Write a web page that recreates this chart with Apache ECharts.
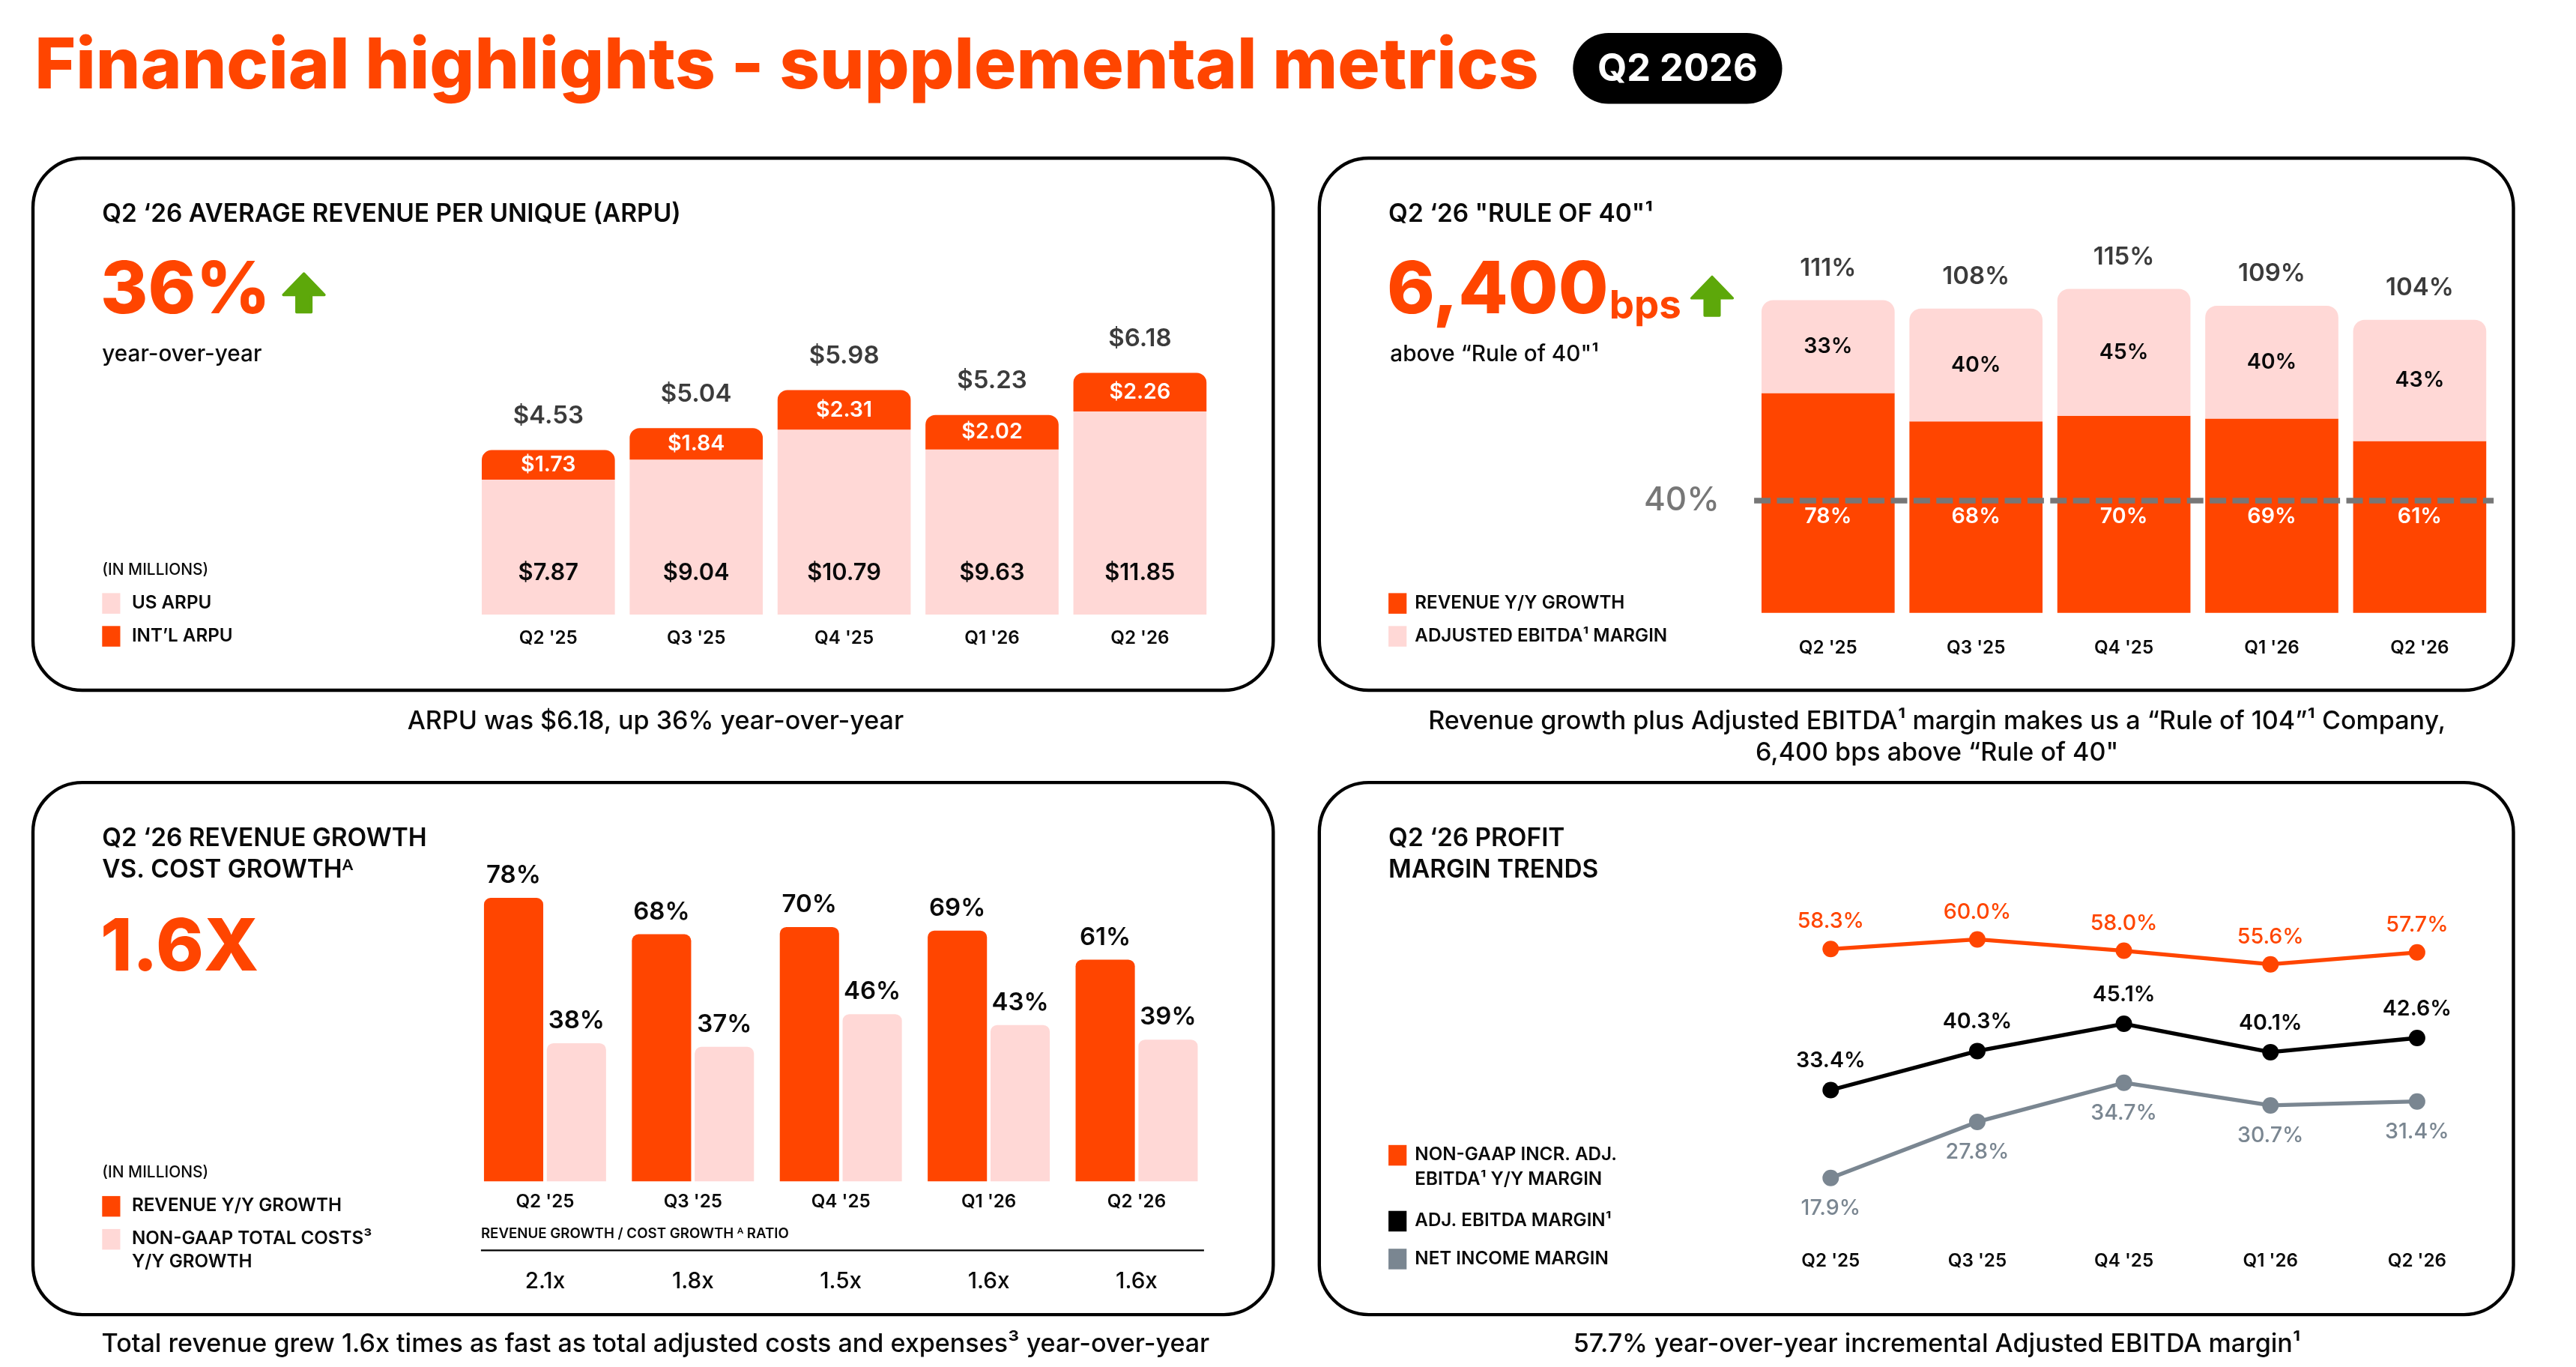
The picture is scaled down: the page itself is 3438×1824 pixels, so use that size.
<!DOCTYPE html>
<html><head><meta charset="utf-8">
<script src="https://cdn.jsdelivr.net/npm/echarts@6/dist/echarts.min.js"></script>
<style>html,body{margin:0;padding:0;background:#fff}#c{width:3438px;height:1824px}</style>
</head><body><div id="c"></div>
<script>
// ---------- DATA ----------
const quarters = ["Q2 '25", "Q3 '25", "Q4 '25", "Q1 '26", "Q2 '26"];
const usArpu = [7.87, 9.04, 10.79, 9.63, 11.85];
const intlArpu = [1.73, 1.84, 2.31, 2.02, 2.26];
const totalArpu = [4.53, 5.04, 5.98, 5.23, 6.18];
const revenueGrowth = [78, 68, 70, 69, 61];
const ebitdaMargin = [33, 40, 45, 40, 43];
const ruleOf40 = [111, 108, 115, 109, 104];
const ruleThreshold = 40;
const costGrowth = [38, 37, 46, 43, 39];
const growthRatio = ['2.1x', '1.8x', '1.5x', '1.6x', '1.6x'];
const incrEbitdaMargin = [58.3, 60.0, 58.0, 55.6, 57.7];
const adjEbitdaMargin = [33.4, 40.3, 45.1, 40.1, 42.6];
const netIncomeMargin = [17.9, 27.8, 34.7, 30.7, 31.4];

// ---------- LAYOUT ----------
const S = 3438 / 1564;
const P = v => Math.round(v * S * 10) / 10;
const ORANGE = '#FF4500', PINK = '#FFD8D6', GRAY = '#7A8691', DASH = '#777777', INK = '#0A0A0A';
const FONT = 'Inter, "Noto Sans", sans-serif';

function txt(x, y, text, size, o = {}) {
  return { type: 'text', z: 10, style: {
    x: P(x), y: P(y), text: text, fontFamily: FONT, fontSize: P(size),
    fontWeight: o.weight || 600, fill: o.fill || INK,
    align: o.align || 'left', verticalAlign: 'middle' } };
}
function panel(x, y, w, h) {
  return { type: 'rect', z: -10, shape: { x: P(x), y: P(y), width: P(w), height: P(h), r: P(30) },
    style: { fill: '#fff', stroke: '#000', lineWidth: P(2) } };
}
function square(x, y, color) {
  return { type: 'rect', z: 10, shape: { x: P(x), y: P(y - 6), width: P(11), height: P(12.5) }, style: { fill: color } };
}
function arrow(x, y) {
  const pts = [[0, 13], [12.5, 0], [25, 13], [17, 13], [17, 23.5], [8, 23.5], [8, 13]];
  return { type: 'polygon', z: 10, shape: { points: pts.map(p => [P(x + p[0]), P(y + p[1])]) },
    style: { fill: '#5DA80A', lineJoin: 'round', stroke: '#5DA80A', lineWidth: P(1.5) } };
}

const graphics = [
  panel(20, 96, 753, 323), panel(801, 96, 725, 323),
  panel(20, 475, 753, 323), panel(801, 475, 725, 323),
  txt(21, 41, 'Financial highlights - supplemental metrics', 42.7, { weight: 800, fill: ORANGE }),
  { type: 'rect', z: 10, shape: { x: P(955), y: P(20), width: P(127), height: P(43), r: P(21.5) }, style: { fill: '#000' } },
  txt(1018.5, 42, 'Q2 2026', 23, { weight: 700, fill: '#fff', align: 'center' }),

  // Panel 1
  txt(62, 130, 'Q2 \u201826 AVERAGE REVENUE PER UNIQUE (ARPU)', 15.2),
  txt(61, 177, '36%', 44, { weight: 800, fill: ORANGE }),
  arrow(172, 166),
  txt(62, 215, 'year-over-year', 13.5, { weight: 500 }),
  txt(62, 346, '(IN MILLIONS)', 9.5, { weight: 500 }),
  square(62, 366, PINK), txt(80, 366, 'US ARPU', 11),
  square(62, 386, ORANGE), txt(80, 386, 'INT\u2019L ARPU', 11),
  txt(398, 438, 'ARPU was $6.18, up 36% year-over-year', 15.5, { weight: 500, align: 'center' }),

  // Panel 2
  txt(843, 130, 'Q2 \u201826 "RULE OF 40"\u00B9', 15.2),
  txt(842, 177, '6,400', 44, { weight: 800, fill: ORANGE }),
  txt(977, 186, 'bps', 24, { weight: 700, fill: ORANGE }),
  arrow(1027, 168),
  txt(844, 215, 'above \u201CRule of 40"\u00B9', 13.5, { weight: 500 }),
  square(843, 366, ORANGE), txt(859, 366, 'REVENUE Y/Y GROWTH', 11),
  square(843, 386, PINK), txt(859, 386, 'ADJUSTED EBITDA\u00B9 MARGIN', 11),
  txt(1176, 438, 'Revenue growth plus Adjusted EBITDA\u00B9 margin makes us a \u201CRule of 104\u201D\u00B9 Company,', 15.5, { weight: 500, align: 'center' }),
  txt(1176, 457, '6,400 bps above \u201CRule of 40"', 15.5, { weight: 500, align: 'center' }),

  // Panel 3
  txt(62, 509, 'Q2 \u201826 REVENUE GROWTH', 15.2),
  txt(62, 528, 'VS. COST GROWTH\u1D2C', 15.2),
  txt(61, 576, '1.6X', 44, { weight: 800, fill: ORANGE }),
  txt(62, 712, '(IN MILLIONS)', 9.5, { weight: 500 }),
  square(62, 732, ORANGE), txt(80, 732, 'REVENUE Y/Y GROWTH', 11),
  square(62, 752, PINK), txt(80, 752, 'NON-GAAP TOTAL COSTS\u00B3', 11), txt(80, 766, 'Y/Y GROWTH', 11),
  txt(292, 749, 'REVENUE GROWTH / COST GROWTH \u1D2C RATIO', 8.5),
  { type: 'line', z: 10, shape: { x1: P(292), y1: P(759), x2: P(731), y2: P(759) }, style: { stroke: '#000', lineWidth: P(1) } },
  txt(398, 816, 'Total revenue grew 1.6x times as fast as total adjusted costs and expenses\u00B3 year-over-year', 15.5, { weight: 500, align: 'center' }),

  // Panel 4
  txt(843, 509, 'Q2 \u201826 PROFIT', 15.2),
  txt(843, 528, 'MARGIN TRENDS', 15.2),
  square(843, 701, ORANGE), txt(859, 701, 'NON-GAAP INCR. ADJ.', 11), txt(859, 716, 'EBITDA\u00B9 Y/Y MARGIN', 11),
  square(843, 741, '#000'), txt(859, 741, 'ADJ. EBITDA MARGIN\u00B9', 11),
  square(843, 764, GRAY), txt(859, 764, 'NET INCOME MARGIN', 11),
  txt(1176, 816, '57.7% year-over-year incremental Adjusted EBITDA margin\u00B9', 15.5, { weight: 500, align: 'center' })
];

// ---------- AXES ----------
function catAxis(grid, data, margin, size, extra = {}) {
  return Object.assign({ type: 'category', gridIndex: grid, data: data,
    axisLine: { show: false }, axisTick: { show: false }, splitLine: { show: false },
    axisLabel: { margin: P(margin), fontFamily: FONT, fontSize: P(size), fontWeight: 600, color: INK } }, extra);
}
function valAxis(grid, min, max) {
  return { type: 'value', gridIndex: grid, min: min, max: max, show: false, splitLine: { show: false } };
}
const lbl = (size, o = {}) => Object.assign({ show: true, fontFamily: FONT, fontSize: P(size), fontWeight: 600, color: INK }, o);

const option = {
  animation: false,
  backgroundColor: '#fff',
  graphic: graphics,
  grid: [
    { left: P(288), width: P(449), top: P(206.6), height: P(166.4) },
    { left: P(1065), width: P(449), top: P(166.8), height: P(205.2) },
    { left: P(286), width: P(449), top: P(540.6), height: P(176.4) },
    { left: P(1067), width: P(445), top: P(535.8), height: P(206.4) }
  ],
  xAxis: [
    catAxis(0, quarters, 9, 11),
    catAxis(1, quarters, 16, 11),
    catAxis(2, quarters, 7, 11),
    catAxis(2, growthRatio, 4, 13.5, { position: 'bottom', offset: P(50), axisLabel: { margin: P(4), fontFamily: FONT, fontSize: P(13.5), fontWeight: 500, color: INK } }),
    catAxis(3, quarters, 18, 11)
  ],
  yAxis: [valAxis(0, 0, 16), valAxis(1, 0, 120), valAxis(2, 0, 80), valAxis(3, 10, 70)],
  series: [
    // Panel 1
    { type: 'bar', xAxisIndex: 0, yAxisIndex: 0, stack: 'arpu', data: usArpu, barWidth: '90%',
      itemStyle: { color: PINK },
      label: lbl(14, { position: 'insideBottom', distance: P(18), formatter: p => '$' + p.value.toFixed(2) }) },
    { type: 'bar', xAxisIndex: 0, yAxisIndex: 0, stack: 'arpu', data: intlArpu, barWidth: '90%',
      itemStyle: { color: ORANGE, borderRadius: [P(6), P(6), 0, 0] },
      label: lbl(13, { position: 'inside', color: '#fff', formatter: p => '$' + p.value.toFixed(2) }) },
    { type: 'scatter', xAxisIndex: 0, yAxisIndex: 0, symbolSize: 0, silent: true,
      data: quarters.map((q, i) => [i, usArpu[i] + intlArpu[i]]),
      label: lbl(15, { position: 'top', distance: P(13), formatter: p => '$' + totalArpu[p.dataIndex].toFixed(2) }) },
    // Panel 2
    { type: 'bar', xAxisIndex: 1, yAxisIndex: 1, stack: 'r40', data: revenueGrowth, barWidth: '90%',
      itemStyle: { color: ORANGE },
      label: lbl(13, { position: 'insideBottom', distance: P(52), color: '#fff', formatter: '{c}%' }),
      markLine: { silent: true, symbol: 'none', z: 5,
        lineStyle: { color: DASH, width: P(3.4), type: [P(10), P(3.8)], opacity: 1 },
        label: { position: 'start', formatter: ruleThreshold + '%', fontFamily: FONT, fontSize: P(20), fontWeight: 500, color: DASH, distance: P(21) },
        data: [{ yAxis: ruleThreshold }] } },
    { type: 'bar', xAxisIndex: 1, yAxisIndex: 1, stack: 'r40', data: ebitdaMargin, barWidth: '90%',
      itemStyle: { color: PINK, borderRadius: [P(7), P(7), 0, 0] },
      label: lbl(13, { position: 'inside', formatter: '{c}%' }) },
    { type: 'scatter', xAxisIndex: 1, yAxisIndex: 1, symbolSize: 0, silent: true,
      data: quarters.map((q, i) => [i, revenueGrowth[i] + ebitdaMargin[i]]),
      label: lbl(15, { position: 'top', distance: P(12), formatter: p => ruleOf40[p.dataIndex] + '%' }) },
    // Panel 3
    { type: 'bar', xAxisIndex: 2, yAxisIndex: 2, data: revenueGrowth, barWidth: P(36), barGap: '6%',
      itemStyle: { color: ORANGE, borderRadius: [P(4), P(4), 0, 0] },
      label: lbl(15, { position: 'top', distance: P(6), formatter: '{c}%' }) },
    { type: 'bar', xAxisIndex: 2, yAxisIndex: 2, data: costGrowth, barWidth: P(36),
      itemStyle: { color: PINK, borderRadius: [P(4), P(4), 0, 0] },
      label: lbl(15, { position: 'top', distance: P(6), formatter: '{c}%' }) },
    // Panel 4
    { type: 'line', xAxisIndex: 4, yAxisIndex: 3, data: incrEbitdaMargin, symbol: 'circle', symbolSize: P(10),
      lineStyle: { color: ORANGE, width: P(2.4) }, itemStyle: { color: ORANGE },
      label: lbl(13, { position: 'top', distance: P(5), color: ORANGE, fontWeight: 500, formatter: p => p.value.toFixed(1) + '%' }) },
    { type: 'line', xAxisIndex: 4, yAxisIndex: 3, data: adjEbitdaMargin, symbol: 'circle', symbolSize: P(10),
      lineStyle: { color: '#000', width: P(2.4) }, itemStyle: { color: '#000' },
      label: lbl(13, { position: 'top', distance: P(6), color: INK, formatter: p => p.value.toFixed(1) + '%' }) },
    { type: 'line', xAxisIndex: 4, yAxisIndex: 3, data: netIncomeMargin, symbol: 'circle', symbolSize: P(10),
      lineStyle: { color: GRAY, width: P(2.4) }, itemStyle: { color: GRAY },
      label: lbl(13, { position: 'bottom', distance: P(7), color: GRAY, fontWeight: 500, formatter: p => p.value.toFixed(1) + '%' }) }
  ]
};
const chart = echarts.init(document.getElementById('c'), null, { renderer: 'canvas' });
chart.setOption(option);
</script>
</body></html>
